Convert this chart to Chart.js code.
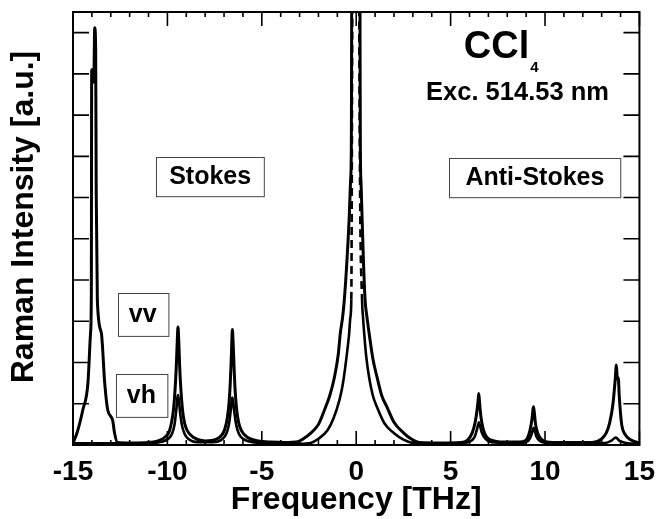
<!DOCTYPE html>
<html>
<head>
<meta charset="utf-8">
<script src="https://cdn.jsdelivr.net/npm/chart.js@4"></script>
<style>
  html, body { margin: 0; padding: 0; background: #fff; }
  #wrap { width: 665px; height: 519px; }
</style>
</head>
<body>
<div id="wrap"><canvas id="ramanChart" width="665" height="519"></canvas></div>
<script>
// Raman spectrum of CCl4, vv and vh polarisation (frequency shift in THz)
const vvFreq = [-15.0, -14.79, -14.48, -14.21, -14.07, -14.03, -14.01, -13.95, -13.9, -13.85, -13.8, -13.77, -13.71,
  -13.5, -13.32, -13.16, -12.9, -12.8, -12.64, -12.0, -11.0, -10.5, -10.1, -9.9, -9.78, -9.68, -9.6, -9.53,
  -9.48, -9.44, -9.4, -9.35, -9.28, -9.2, -9.1, -8.95, -8.6, -8.0, -7.4, -7.1, -6.95, -6.83, -6.74, -6.67,
  -6.61, -6.56, -6.52, -6.47, -6.41, -6.33, -6.23, -6.08, -5.75, -5.2, -4.5, -3.8, -3.09, -2.8, -2.41, -2.0,
  -1.68, -1.4, -1.15, -0.95, -0.84, -0.72, -0.63, -0.5, -0.37, -0.3, -0.26, -0.25, -0.24, -0.23, 0.0,
  0.19, 0.2, 0.21, 0.22, 0.26, 0.31, 0.38, 0.47, 0.57, 0.68, 0.88, 1.1, 1.35, 1.63, 2.0, 2.52, 2.9, 3.36, 4.5,
  5.5, 5.9, 6.15, 6.3, 6.4, 6.46, 6.49, 6.53, 6.6, 6.72, 6.9, 7.3, 8.0, 8.8, 9.05, 9.2, 9.3, 9.36, 9.39,
  9.43, 9.5, 9.62, 9.85, 10.4, 12.5, 12.98, 13.25, 13.42, 13.6, 13.72, 13.78, 13.83, 13.88, 13.93, 14.05,
  14.25, 14.56, 15.0];
const vvInt = [0.05, 0.29, 0.85, 1.5, 2.72, 3.6, 9.1, 9.0, 8.8, 10.12, 9.6, 6.1, 3.5,
  2.72, 1.5, 0.85, 0.6, 0.29, 0.06, 0.05, 0.06, 0.1, 0.2, 0.33, 0.55, 0.85, 1.3, 1.9,
  2.5, 2.86, 2.55, 1.9, 1.3, 0.85, 0.55, 0.35, 0.18, 0.1, 0.14, 0.25, 0.4, 0.65, 1.0, 1.5,
  2.2, 2.8, 2.5, 1.9, 1.3, 0.85, 0.55, 0.35, 0.18, 0.1, 0.07, 0.06, 0.08, 0.15, 0.29, 0.5,
  0.85, 1.2, 1.65, 2.2, 2.72, 3.1, 3.52, 4.4, 5.53, 6.4, 7.16, 8.5, 10.5, 12, 40,
  12, 10.5, 8.5, 7.16, 6.3, 5.53, 4.5, 3.52, 3.1, 2.72, 2.1, 1.65, 1.2, 0.92, 0.55, 0.29, 0.15, 0.06, 0.05,
  0.06, 0.12, 0.3, 0.55, 0.85, 1.1, 1.25, 1.05, 0.7, 0.4, 0.2, 0.1, 0.07, 0.08, 0.15, 0.35, 0.6, 0.85, 0.93,
  0.8, 0.5, 0.28, 0.12, 0.06, 0.06, 0.14, 0.3, 0.53, 1.0, 1.6, 1.94, 1.6, 1.63, 1.2, 0.53,
  0.25, 0.12, 0.05];

const vhFreq = [-15.0, -11.0, -10.3, -9.95, -9.75, -9.62, -9.53, -9.47,
  -9.44, -9.4, -9.33, -9.24, -9.1, -8.9, -8.4, -7.6, -7.1, -6.88, -6.74, -6.65, -6.59, -6.56, -6.52, -6.45,
  -6.36, -6.22, -6.0, -5.5, -4.0, -3.0, -2.41, -2.0, -1.52, -1.2, -0.89, -0.72, -0.58, -0.47, -0.37, -0.31,
  -0.26, -0.21, -0.19, 0.0, 0.15, 0.16, 0.31, 0.36, 0.42, 0.53, 0.68, 0.88, 1.1, 1.5, 1.99, 2.5, 3.2,
  5.5, 6.0, 6.25, 6.38, 6.46, 6.5, 6.55, 6.65, 6.85, 7.3, 8.7, 9.1, 9.28,
  9.36, 9.4, 9.45, 9.55, 9.8, 10.5, 13.2, 13.5, 13.75, 13.95, 14.3, 15.0];
const vhInt = [0.04, 0.04, 0.08, 0.15, 0.28, 0.5, 0.85, 1.15,
  1.21, 1.1, 0.8, 0.5, 0.28, 0.15, 0.07, 0.07, 0.14, 0.27, 0.5, 0.82, 1.1, 1.15, 1.05, 0.78,
  0.5, 0.28, 0.15, 0.07, 0.04, 0.03, 0.05, 0.15, 0.36, 0.65, 1.09, 1.45, 1.89, 2.3, 2.72, 3.1,
  3.52, 10.5, 14, 40, 14, 10.5, 3.52, 3.1, 2.72, 2.15, 1.65, 1.2, 0.92, 0.52, 0.29, 0.13, 0.04,
  0.04, 0.08, 0.18, 0.35, 0.5, 0.55, 0.48, 0.3, 0.15, 0.06, 0.05, 0.1, 0.25,
  0.38, 0.42, 0.35, 0.2, 0.08, 0.04, 0.05, 0.1, 0.18, 0.1, 0.05, 0.03];

const freqTicks = [-15, -10, -5, 0, 5, 10, 15];
const intensityTicks = [1, 2, 3, 4, 5, 6, 7, 8, 9, 10];

const FONT = '"Liberation Sans", Arial, Helvetica, sans-serif';

function toPoints(xs, ys) {
  return xs.map((f, i) => ({ x: f, y: ys[i] }));
}

// inward tick marks, closed frame, and the text labels inside the plot
const framePlugin = {
  id: 'frame',
  afterDatasetsDraw(chart) {
    const { ctx, chartArea: a, scales: { x, y } } = chart;
    ctx.save();
    ctx.strokeStyle = '#000';
    ctx.lineWidth = 2;
    ctx.strokeRect(a.left, a.top, a.right - a.left, a.bottom - a.top);

    ctx.lineWidth = 1.6;
    ctx.beginPath();
    for (let f = -15; f <= 15; f++) {
      const px = x.getPixelForValue(f);
      const len = freqTicks.includes(f) ? 14 : 5;
      ctx.moveTo(px, a.bottom); ctx.lineTo(px, a.bottom - len);
      ctx.moveTo(px, a.top); ctx.lineTo(px, a.top + len);
    }
    intensityTicks.forEach(v => {
      const py = y.getPixelForValue(v);
      ctx.moveTo(a.left, py); ctx.lineTo(a.left + 16, py);
      ctx.moveTo(a.right, py); ctx.lineTo(a.right - 16, py);
    });
    ctx.stroke();

    // boxed labels
    const boxes = [
      { text: 'Stokes', x0: -10.59, x1: -4.88, y0: 6.04, y1: 6.99 },
      { text: 'Anti-Stokes', x0: 4.93, x1: 14.0, y0: 6.02, y1: 6.97 },
      { text: 'vv', x0: -12.64, x1: -9.97, y0: 2.65, y1: 3.69 },
      { text: 'vh', x0: -12.74, x1: -10.02, y0: 0.68, y1: 1.72 }
    ];
    ctx.font = 'bold 25px ' + FONT;
    ctx.textAlign = 'center';
    ctx.textBaseline = 'middle';
    boxes.forEach(b => {
      const l = x.getPixelForValue(b.x0), r = x.getPixelForValue(b.x1);
      const t = y.getPixelForValue(b.y1), btm = y.getPixelForValue(b.y0);
      ctx.fillStyle = '#fff';
      ctx.fillRect(l, t, r - l, btm - t);
      ctx.strokeStyle = '#444';
      ctx.lineWidth = 1;
      ctx.strokeRect(Math.round(l) + 0.5, Math.round(t) + 0.5, r - l, btm - t);
      ctx.fillStyle = '#000';
      ctx.fillText(b.text, (l + r) / 2, (t + btm) / 2 + 1);
    });

    // sample and excitation line
    ctx.textAlign = 'left';
    ctx.textBaseline = 'alphabetic';
    ctx.font = 'bold 38px ' + FONT;
    const ccX = x.getPixelForValue(5.7), ccY = y.getPixelForValue(9.39);
    ctx.fillText('CCl', ccX, ccY);
    const ccW = ctx.measureText('CCl').width;
    ctx.font = 'bold 15px ' + FONT;
    ctx.fillText('4', ccX + ccW + 1, y.getPixelForValue(9.05));
    ctx.font = 'bold 25.5px ' + FONT;
    ctx.fillText('Exc. 514.53 nm', x.getPixelForValue(3.7), y.getPixelForValue(8.37));

    // vertical axis title
    ctx.font = 'bold 32px ' + FONT;
    ctx.textAlign = 'center';
    ctx.textBaseline = 'middle';
    ctx.translate(24, 217);
    ctx.rotate(-Math.PI / 2);
    ctx.fillText('Raman Intensity [a.u.]', 0, 0);
    ctx.restore();
  }
};

const ramanChart = new Chart(document.getElementById('ramanChart'), {
  type: 'line',
  data: {
    datasets: [{
      label: 'vv',
      data: toPoints(vvFreq, vvInt),
      borderColor: '#000',
      borderWidth: 3,
      pointRadius: 0,
      cubicInterpolationMode: 'monotone',
      clip: 0
    }, {
      label: 'vh',
      data: toPoints(vhFreq, vhInt),
      borderColor: '#000',
      borderWidth: 2.6,
      pointRadius: 0,
      cubicInterpolationMode: 'monotone',
      clip: 0,
      segment: {
        // the narrow part of the central line is drawn dashed
        borderDash: c => (vhInt[c.p0DataIndex] >= 3.4 && vhInt[c.p1DataIndex] >= 3.4) ? [8, 5] : undefined
      }
    }]
  },
  options: {
    responsive: false,
    animation: false,
    layout: { padding: { top: 12, right: 20, left: 0, bottom: 0 } },
    plugins: { legend: { display: false }, tooltip: { enabled: false } },
    scales: {
      x: {
        type: 'linear',
        min: -15,
        max: 15,
        afterBuildTicks: s => { s.ticks = freqTicks.map(v => ({ value: v })); },
        afterFit: s => { s.height = 74; },
        grid: { display: false, drawTicks: false },
        border: { display: false },
        ticks: {
          color: '#000',
          padding: 10,
          maxRotation: 0,
          font: { family: FONT, size: 28, weight: 'bold' }
        },
        title: {
          display: true,
          text: 'Frequency [THz]',
          color: '#000',
          padding: { top: 0, bottom: 0 },
          font: { family: FONT, size: 32, weight: 'bold' }
        }
      },
      y: {
        type: 'linear',
        min: 0,
        max: 10.5,
        afterBuildTicks: s => { s.ticks = intensityTicks.map(v => ({ value: v })); },
        afterFit: s => { s.width = 73; },
        grid: { display: false, drawTicks: false },
        border: { display: false },
        ticks: { display: false }
      }
    }
  },
  plugins: [framePlugin]
});
</script>
</body>
</html>
